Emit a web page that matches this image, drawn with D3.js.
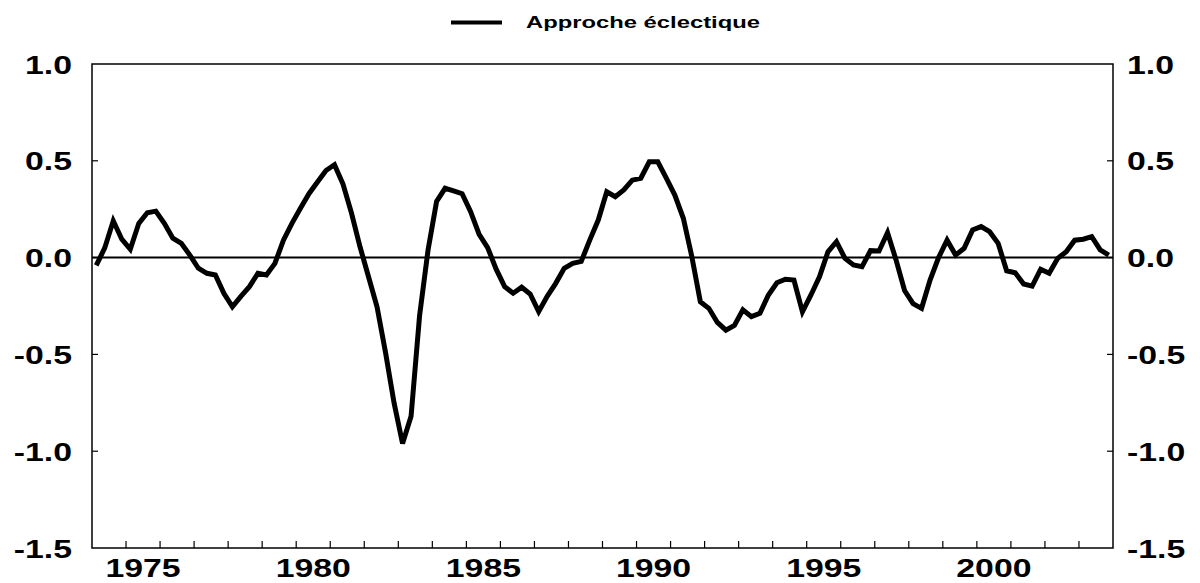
<!DOCTYPE html>
<html>
<head>
  <meta charset="utf-8">
  <script src="https://d3js.org/d3.v7.min.js"></script>
  <style>
    body { margin: 0; background: #fff; }
    text { font-family: "Liberation Sans", Arial, sans-serif; font-weight: bold; fill: #000; }
  </style>
</head>
<body>
<script>
  // years covered (quarterly data, 4 values per year)
  var years = [1974, 1975, 1976, 1977, 1978, 1979, 1980, 1981, 1982, 1983,
               1984, 1985, 1986, 1987, 1988, 1989, 1990, 1991, 1992, 1993,
               1994, 1995, 1996, 1997, 1998, 1999, 2000, 2001, 2002, 2003];

  // Approche eclectique, quarterly values
  var values = [
    -0.04, 0.05, 0.19, 0.095,      // 1974
    0.043, 0.177, 0.232, 0.24,     // 1975
    0.177, 0.10, 0.074, 0.013,     // 1976
    -0.055, -0.081, -0.09, -0.184, // 1977
    -0.254, -0.2, -0.15, -0.081,   // 1978
    -0.09, -0.03, 0.09, 0.177,     // 1979
    0.255, 0.33, 0.39, 0.45,       // 1980
    0.48, 0.38, 0.23, 0.056,       // 1981
    -0.099, -0.254, -0.49, -0.75,  // 1982
    -0.96, -0.82, -0.30, 0.04,     // 1983
    0.29, 0.358, 0.345, 0.33,      // 1984
    0.237, 0.12, 0.052, -0.06,     // 1985
    -0.15, -0.184, -0.153, -0.188, // 1986
    -0.279, -0.2, -0.133, -0.055,  // 1987
    -0.03, -0.02, 0.09, 0.194,     // 1988
    0.34, 0.315, 0.35, 0.40,       // 1989
    0.41, 0.495, 0.495, 0.41,      // 1990
    0.323, 0.203, 0.005, -0.228,   // 1991
    -0.262, -0.335, -0.375, -0.35, // 1992
    -0.27, -0.305, -0.288, -0.193, // 1993
    -0.13, -0.112, -0.116, -0.28,  // 1994
    -0.193, -0.099, 0.03, 0.082,   // 1995
    -0.004, -0.038, -0.047, 0.036, // 1996
    0.034, 0.129, -0.012, -0.17,   // 1997
    -0.238, -0.262, -0.116, 0.0,   // 1998
    0.09, 0.013, 0.048, 0.143,     // 1999
    0.16, 0.134, 0.074, -0.068,    // 2000
    -0.078, -0.136, -0.147, -0.06, // 2001
    -0.081, -0.004, 0.03, 0.09,    // 2002
    0.095, 0.108, 0.04, 0.013      // 2003
  ];

  var yearLabels = [1975, 1980, 1985, 1990, 1995, 2000];
  var yTicks = [-1.5, -1.0, -0.5, 0.0, 0.5, 1.0];
  var seriesName = "Approche éclectique";

  var width = 1200, height = 583;
  var plotLeft = 92, plotRight = 1113, plotTop = 64, plotBottom = 548;
  var sx = 1.3; // the labels in the picture are stretched sideways

  var svg = d3.select("body").append("svg")
      .attr("width", width)
      .attr("height", height);

  var x = d3.scaleLinear()
      .domain([years[0], years[years.length - 1] + 1])
      .range([plotLeft, plotRight]);

  var y = d3.scaleLinear()
      .domain([-1.5, 1.0])
      .range([plotBottom, plotTop]);

  var points = values.map(function(v, i) {
    return { t: years[Math.floor(i / 4)] + (i % 4 + 0.5) / 4, v: v };
  });

  // plain hyphen for negatives, like the original
  function fmt(d) { return d.toFixed(1); }

  // stretched text helper
  function label(g, tx, ty, txt, size, anchor, scale) {
    return g.append("text")
      .attr("transform", "translate(" + tx + "," + ty + ") scale(" + scale + ",1)")
      .attr("text-anchor", anchor)
      .style("font-size", size + "px")
      .text(txt);
  }

  // bottom ticks, one per year, pointing inward
  var tickYears = years.slice(1);
  svg.append("g").selectAll("line")
    .data(tickYears)
    .enter().append("line")
      .attr("x1", function(d) { return x(d); })
      .attr("x2", function(d) { return x(d); })
      .attr("y1", plotBottom)
      .attr("y2", plotBottom - 7)
      .attr("stroke", "#000")
      .attr("stroke-width", 1.2);

  // side ticks
  svg.append("g").selectAll("line")
    .data(yTicks.slice(1, -1))
    .enter().append("line")
      .attr("x1", plotLeft)
      .attr("x2", plotLeft + 6)
      .attr("y1", function(d) { return y(d); })
      .attr("y2", function(d) { return y(d); })
      .attr("stroke", "#000")
      .attr("stroke-width", 1.2);

  svg.append("g").selectAll("line")
    .data(yTicks.slice(1, -1))
    .enter().append("line")
      .attr("x1", plotRight)
      .attr("x2", plotRight - 6)
      .attr("y1", function(d) { return y(d); })
      .attr("y2", function(d) { return y(d); })
      .attr("stroke", "#000")
      .attr("stroke-width", 1.2);

  // frame
  svg.append("rect")
    .attr("x", plotLeft)
    .attr("y", plotTop)
    .attr("width", plotRight - plotLeft)
    .attr("height", plotBottom - plotTop)
    .attr("fill", "none")
    .attr("stroke", "#000")
    .attr("stroke-width", 1.5);

  // zero line
  svg.append("line")
    .attr("x1", plotLeft)
    .attr("x2", plotRight)
    .attr("y1", y(0))
    .attr("y2", y(0))
    .attr("stroke", "#000")
    .attr("stroke-width", 2);

  // y labels, both sides
  var gy = svg.append("g");
  yTicks.forEach(function(d) {
    label(gy, plotLeft - 20, y(d) + 9.5, fmt(d), 26, "end", sx);
    label(gy, plotRight + 14, y(d) + 9.5, fmt(d), 26, "start", sx);
  });

  // x labels, centred in their year
  var gx = svg.append("g");
  yearLabels.forEach(function(d) {
    label(gx, x(d + 0.5), 577, d, 26, "middle", sx);
  });

  // the series
  var line = d3.line()
      .x(function(d) { return x(d.t); })
      .y(function(d) { return y(d.v); });

  svg.append("path")
    .datum(points)
    .attr("d", line)
    .attr("fill", "none")
    .attr("stroke", "#000")
    .attr("stroke-width", 5)
    .attr("stroke-linejoin", "miter")
    .attr("stroke-miterlimit", 3);

  // legend
  var lg = svg.append("g");
  lg.append("line")
    .attr("x1", 451).attr("x2", 502)
    .attr("y1", 22.5).attr("y2", 22.5)
    .attr("stroke", "#000")
    .attr("stroke-width", 4);
  var lt = label(lg, 526, 27.5, seriesName, 16.5, "start", 1);
  var natural = lt.node().getComputedTextLength();
  lt.attr("transform", "translate(526,27.5) scale(" + (234 / natural) + ",1)");
</script>
</body>
</html>
